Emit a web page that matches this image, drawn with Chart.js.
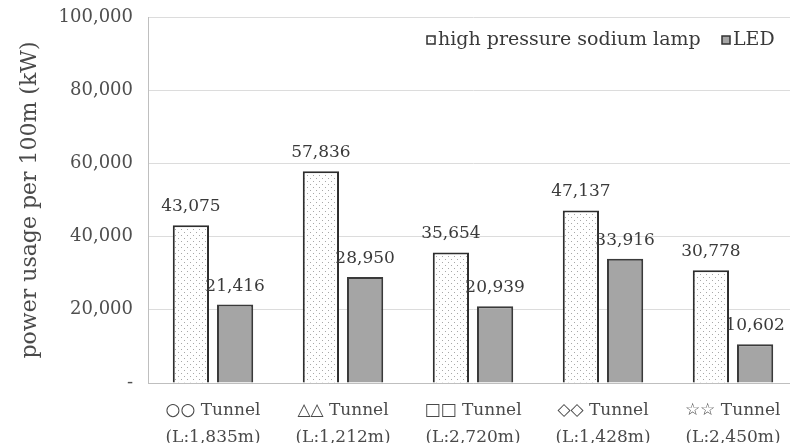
<!DOCTYPE html>
<html>
<head>
<meta charset="utf-8">
<script src="https://cdn.jsdelivr.net/npm/chart.js@4.4.1/dist/chart.umd.min.js"></script>
<style>
  html, body { margin: 0; padding: 0; background: #fff; overflow: hidden; }
  #wrap { width: 798px; height: 443px; }
</style>
</head>
<body>
<div id="wrap"><canvas id="chart"></canvas></div>
<script>
// data
const tunnels = [
  ['○○ Tunnel', '(L:1,835m)'],
  ['△△ Tunnel', '(L:1,212m)'],
  ['□□ Tunnel', '(L:2,720m)'],
  ['◇◇ Tunnel', '(L:1,428m)'],
  ['☆☆ Tunnel', '(L:2,450m)']
];
const sodiumLamp = [43075, 57836, 35654, 47137, 30778];
const led = [21416, 28950, 20939, 33916, 10602];
const seriesNames = ['high pressure sodium lamp', 'LED'];

const FONT = "'DejaVu Serif', 'Liberation Serif', serif";

// dotted fill for the sodium lamp bars
function dotPattern() {
  const c = document.createElement('canvas');
  c.width = 6; c.height = 6;
  const g = c.getContext('2d');
  g.fillStyle = '#fff';
  g.fillRect(0, 0, 6, 6);
  g.fillStyle = '#a8a8a8';
  g.fillRect(1, 1, 1, 1);
  g.fillRect(4, 4, 1, 1);
  return g.createPattern(c, 'repeat');
}
const dots = dotPattern();

// value labels above every bar
const valueLabels = {
  id: 'valueLabels',
  afterDatasetsDraw(chart) {
    const ctx = chart.ctx;
    ctx.save();
    ctx.font = '17px ' + FONT;
    ctx.fillStyle = '#3a3a3a';
    ctx.textAlign = 'center';
    ctx.textBaseline = 'bottom';
    chart.data.datasets.forEach((ds, i) => {
      chart.getDatasetMeta(i).data.forEach((bar, j) => {
        ctx.fillText(ds.data[j].toLocaleString('en-US'), bar.x, bar.y - 10);
      });
    });
    ctx.restore();
  }
};

// legend sits inside the plot, top right
const innerLegend = {
  id: 'innerLegend',
  afterDraw(chart) {
    const ctx = chart.ctx;
    const items = [
      { x: 427, fill: dots, text: seriesNames[0] },
      { x: 722, fill: '#a5a5a5', text: seriesNames[1] }
    ];
    const y = 40;
    ctx.save();
    ctx.font = '19px ' + FONT;
    ctx.textBaseline = 'middle';
    items.forEach(it => {
      ctx.fillStyle = it.fill;
      ctx.fillRect(it.x, y - 4, 8, 8);
      ctx.strokeStyle = '#333';
      ctx.lineWidth = 1.5;
      ctx.strokeRect(it.x, y - 4, 8, 8);
      ctx.fillStyle = '#3a3a3a';
      ctx.fillText(it.text, it.x + 11, y);
    });
    ctx.restore();
  }
};

new Chart(document.getElementById('chart'), {
  type: 'bar',
  data: {
    labels: tunnels,
    datasets: [
      {
        label: seriesNames[0],
        data: sodiumLamp,
        backgroundColor: dots,
        borderColor: '#2e2e2e',
        borderWidth: 2
      },
      {
        label: seriesNames[1],
        data: led,
        backgroundColor: '#a5a5a5',
        borderColor: '#3a3a3a',
        borderWidth: 2
      }
    ]
  },
  options: {
    responsive: true,
    maintainAspectRatio: false,
    animation: false,
    layout: { padding: { top: 17, right: 0, bottom: 0, left: 0 } },
    datasets: {
      bar: { categoryPercentage: 0.68, barPercentage: 0.82 }
    },
    plugins: {
      legend: { display: false },
      tooltip: { enabled: false }
    },
    scales: {
      x: {
        grid: { display: false },
        border: { display: true, color: '#bfbfbf', width: 1 },
        ticks: {
          color: '#4a4a4a',
          font: { family: FONT, size: 17, lineHeight: 1.6 },
          padding: 6,
          maxRotation: 0
        },
        afterFit(scale) { scale.height = 60; }
      },
      y: {
        min: 0,
        max: 100000,
        grid: { color: '#dcdcdc', lineWidth: 1, drawTicks: false },
        border: { display: true, color: '#bfbfbf', width: 1 },
        ticks: {
          stepSize: 20000,
          color: '#4f4f4f',
          font: { family: FONT, size: 18 },
          padding: 15,
          callback: v => v === 0 ? '-' : v.toLocaleString('en-US')
        },
        title: {
          display: true,
          text: 'power usage per 100m (kW)',
          color: '#4a4a4a',
          font: { family: FONT, size: 22 },
          padding: { top: 17, bottom: 0 }
        },
        afterFit(scale) {
          scale.width = 148;
          scale.paddingTop = 0;
          scale.paddingBottom = 0;
        }
      }
    }
  },
  plugins: [valueLabels, innerLegend]
});
</script>
</body>
</html>
